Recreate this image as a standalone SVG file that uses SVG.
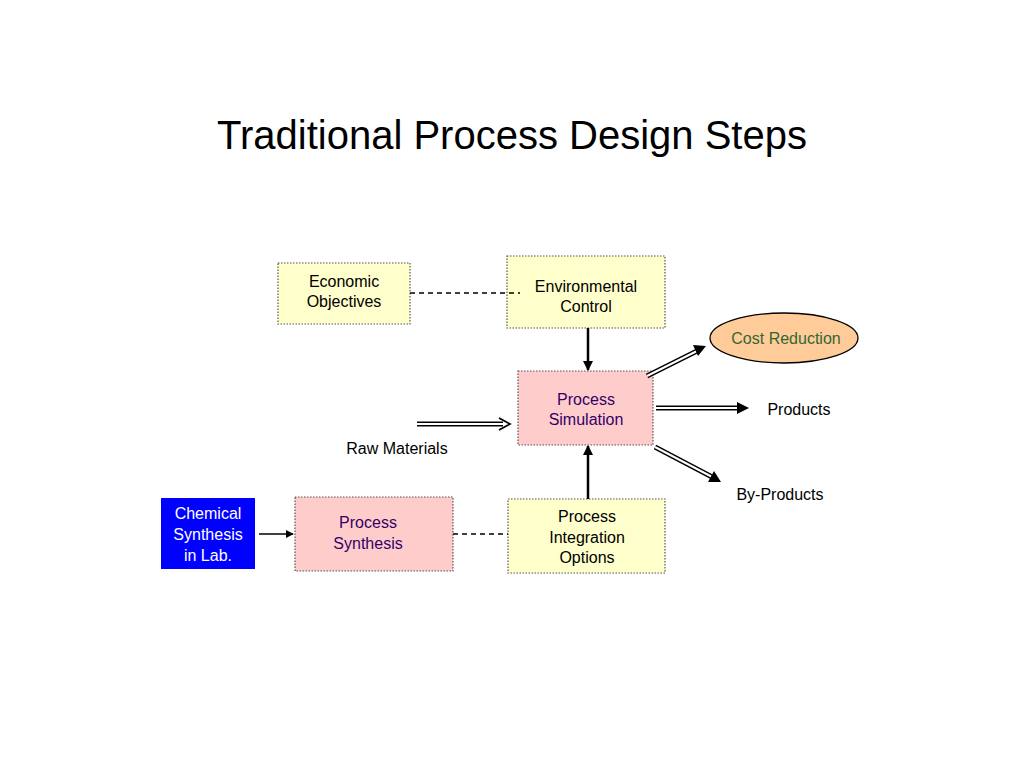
<svg xmlns="http://www.w3.org/2000/svg" width="1024" height="768" viewBox="0 0 1024 768">
<style>
text{font-family:"Liberation Sans",Arial,sans-serif;font-size:16px;text-anchor:middle}
.y{fill:#FFFFCC;stroke:#555;stroke-width:1.2;stroke-dasharray:1.5 1.5}
.p{fill:#FFCCCC;stroke:#555;stroke-width:1.2;stroke-dasharray:1.5 1.5}
.pt{fill:#330066}
.dl{stroke:#000;stroke-width:1.3;stroke-dasharray:5 4;fill:none}
.s{stroke:#000;stroke-width:2.5;fill:none}
.o{stroke:#000;stroke-width:5;fill:none}
.i{stroke:#fff;stroke-width:2;fill:none}
.h{stroke:#000;stroke-width:1.8;fill:none}
</style>
<defs>
<marker id="a" viewBox="0 0 10 10" refX="9" refY="5" markerWidth="4" markerHeight="4" orient="auto"><path d="M0,0L10,5L0,10z" fill="#000"/></marker>
<marker id="b" viewBox="0 0 10 10" refX="9" refY="5" markerWidth="8" markerHeight="8" markerUnits="userSpaceOnUse" orient="auto"><path d="M0,0L10,5L0,10z" fill="#000"/></marker>
</defs>
<rect width="1024" height="768" fill="#fff"/>
<text x="512" y="149" style="font-size:40px">Traditional Process Design Steps</text>
<g id="economic"><rect class="y" x="278" y="263" width="132" height="61"/><text x="344" y="287">Economic</text><text x="344" y="307">Objectives</text></g>
<g id="environmental"><rect class="y" x="507" y="256" width="158" height="72"/><text x="586" y="292">Environmental</text><text x="586" y="312">Control</text></g>
<g id="simulation"><rect class="p" x="518" y="371" width="135" height="74"/><text class="pt" x="586" y="405">Process</text><text class="pt" x="586" y="425">Simulation</text></g>
<g id="cost"><ellipse cx="784" cy="338" rx="74" ry="25" fill="#FFCC99" stroke="#000" stroke-width="1.3"/><text x="786" y="344" fill="#336633">Cost Reduction</text></g>
<g id="products"><text x="799" y="415">Products</text></g>
<g id="byproducts"><text x="780" y="500">By-Products</text></g>
<g id="raw"><text x="397" y="454">Raw Materials</text></g>
<g id="chemical"><rect x="161" y="498" width="94" height="71" fill="#0000FF"/><text x="208" y="519" fill="#fff">Chemical</text><text x="208" y="540" fill="#fff">Synthesis</text><text x="208" y="561" fill="#fff">in Lab.</text></g>
<g id="synthesis"><rect class="p" x="295" y="497" width="158" height="74"/><text class="pt" x="368" y="528">Process</text><text class="pt" x="368" y="549">Synthesis</text></g>
<g id="integration"><rect class="y" x="508" y="499" width="157" height="74"/><text x="587" y="522">Process</text><text x="587" y="543">Integration</text><text x="587" y="563">Options</text></g>
<g id="connectors">
<line class="dl" x1="410" y1="293" x2="520" y2="293"/>
<line class="dl" x1="453" y1="534" x2="508" y2="534"/>
<line class="s" x1="588" y1="328" x2="588" y2="370" marker-end="url(#a)"/>
<line class="s" x1="588" y1="499" x2="588" y2="446" marker-end="url(#a)"/>
<line x1="259" y1="534" x2="293" y2="534" stroke="#000" stroke-width="1.3" marker-end="url(#b)"/>
<g>
<line class="o" x1="417" y1="424" x2="503" y2="424"/><line class="i" x1="417" y1="424" x2="505" y2="424"/><path class="h" d="M499,418L510,424L499,430"/>
<line class="o" x1="656" y1="408" x2="741" y2="408"/><line class="i" x1="656" y1="408" x2="743" y2="408"/><path d="M737,402L749,408L737,414z" fill="#000"/>
<line class="o" x1="647" y1="376" x2="699" y2="350"/><line class="i" x1="647" y1="376" x2="701" y2="349"/><path d="M693,345L706,346L698,356z" fill="#000"/>
<line class="o" x1="655" y1="447" x2="714" y2="478"/><line class="i" x1="655" y1="447" x2="716" y2="479"/><path d="M714,471L721,482L708,482z" fill="#000"/>
</g>
</g>
</svg>
